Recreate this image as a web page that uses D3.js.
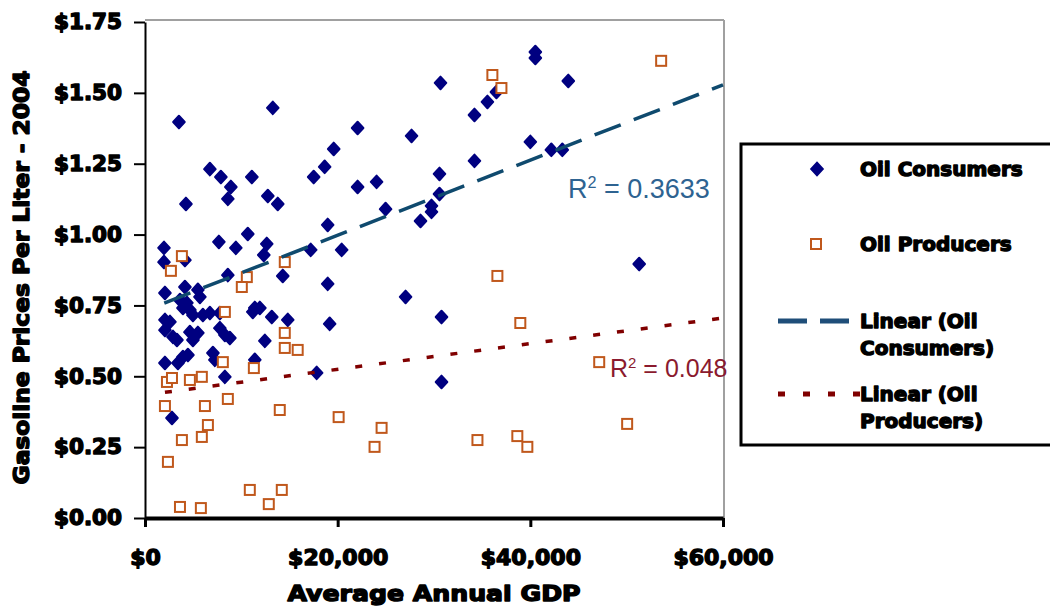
<!DOCTYPE html>
<html><head><meta charset="utf-8">
<script src="https://cdn.jsdelivr.net/npm/d3@7"></script>
<style>body{margin:0;background:#fff}</style>
</head><body><svg id="c" width="1050" height="611"></svg>
<script>
// ---------- data ----------
const consumersGDP = [3523,13265,40520,40520,43940,30675,36480,35545,34200,40000,42180,43320,34200,30570,30570,29740,29740,28600,51300,
  22070,27670,19590,18650,17510,22070,24040,24975,18965,17200,20415,18965,27050,19170,30780,17820,30780,
  6736,7876,8912,11090,8600,4250,12750,13780,10670,7670,9430,12640,12330,1970,1970,4145,14300,8600,
  2070,4145,5490,5700,3630,4350,4660,3940,4975,6010,6736,7770,2070,2590,2070,2900,3316,4660,5490,4975,
  7770,8290,8810,11400,11920,11190,13160,14820,12440,2070,3420,3940,4456,7250,7050,11400,8290,2800];
const consumersPrice = [1.397,1.447,1.644,1.623,1.542,1.535,1.503,1.468,1.422,1.327,1.299,1.299,1.260,1.214,1.143,1.101,1.080,1.048,0.896,
  1.376,1.348,1.302,1.239,1.203,1.168,1.186,1.090,1.034,0.946,0.946,0.826,0.780,0.685,0.709,0.512,0.480,
  1.231,1.203,1.168,1.203,1.126,1.108,1.136,1.108,1.002,0.974,0.953,0.967,0.928,0.953,0.903,0.910,0.854,0.857,
  0.794,0.815,0.805,0.780,0.769,0.759,0.734,0.741,0.716,0.716,0.723,0.723,0.699,0.692,0.663,0.639,0.628,0.656,0.653,0.628,
  0.670,0.646,0.635,0.741,0.741,0.727,0.709,0.699,0.625,0.547,0.547,0.568,0.575,0.558,0.582,0.558,0.498,0.353];
const producersGDP = [36060,37000,53580,36580,38960,47150,50050,34510,38650,39690,20100,24560,23830,
  3830,2690,10570,10050,14510,8290,14510,14510,15850,8080,11300,2280,2800,4660,5900,
  2070,6220,8600,13990,6530,5900,3830,2380,10880,14200,12850,3630,5800];
const producersPrice = [1.563,1.517,1.613,0.854,0.688,0.550,0.332,0.275,0.289,0.251,0.356,0.318,0.251,
  0.924,0.872,0.850,0.815,0.903,0.727,0.653,0.600,0.593,0.550,0.529,0.480,0.494,0.487,0.498,
  0.395,0.395,0.420,0.381,0.328,0.286,0.275,0.198,0.099,0.099,0.049,0.039,0.035];
// linear trend lines: [intercept, slope], drawn over [fromGDP, toGDP]
const trendConsumers = [0.732, 1.327e-5];
const trendConsumersRange = [2000, 60000];
const trendProducers = [0.434, 4.53e-6];
const trendProducersRange = [2070, 60000];
const rSquaredLabels = ["0.3633", "0.048"];
const xTickValues = [0, 20000, 40000, 60000];
const yTickValues = [0, 0.25, 0.5, 0.75, 1.0, 1.25, 1.5, 1.75];
const legendLabels = [["Oil Consumers"], ["Oil Producers"], ["Linear (Oil", "Consumers)"], ["Linear (Oil", "Producers)"]];
const xTitle = "Average Annual GDP";
const yTitle = "Gasoline Prices Per Liter - 2004";

// ---------- drawing ----------
const svg = d3.select("#c");
const L = 145, R = 723, T = 22, B = 518;
const x = d3.scaleLinear().domain([0, 60000]).range([L, R]);
const y = d3.scaleLinear().domain([0, 1.75]).range([B, T]);
const BLUE = "#000080", ORANGE = "#c0581c", TEAL = "#0f4a6e", DRED = "#800000";
const boldFont = "'DejaVu Sans', sans-serif";
const heavy = sel => sel.attr("font-family", boldFont).attr("font-weight", "bold").attr("fill", "#000")
  .attr("stroke", "#000").attr("stroke-width", 1.4).attr("stroke-linejoin", "round");

// plot frame (top/right grey)
svg.append("line").attr("x1", L).attr("x2", R + 1).attr("y1", 20).attr("y2", 20).attr("stroke", "#a0a0a0").attr("stroke-width", 2);
svg.append("line").attr("x1", R + 1).attr("x2", R + 1).attr("y1", 20).attr("y2", B).attr("stroke", "#a0a0a0").attr("stroke-width", 2);

// axes
const xAxis = svg.append("g").attr("transform", `translate(0,${B})`)
  .call(d3.axisBottom(x).tickValues(xTickValues).tickSize(9).tickSizeOuter(0).tickPadding(22)
    .tickFormat(d => "$" + d3.format(",")(d)));
xAxis.select(".domain").attr("stroke", "#000").attr("stroke-width", 4);
xAxis.selectAll(".tick line").attr("stroke", "#000").attr("stroke-width", 3);
xAxis.selectAll("text").call(heavy).attr("font-size", 22);

const yAxis = svg.append("g").attr("transform", `translate(${L},0)`)
  .call(d3.axisLeft(y).tickValues(yTickValues).tickSize(11).tickSizeOuter(0).tickPadding(12)
    .tickFormat(d => "$" + d3.format(".2f")(d)));
yAxis.select(".domain").attr("stroke", "#000").attr("stroke-width", 2);
yAxis.selectAll(".tick line").attr("stroke", "#000").attr("stroke-width", 2);
yAxis.selectAll("text").call(heavy).attr("font-size", 21).attr("textLength", 68).attr("lengthAdjust", "spacingAndGlyphs");

// axis titles
svg.append("text").attr("x", (L + R) / 2).attr("y", 601).attr("text-anchor", "middle")
  .call(heavy).attr("font-size", 22).attr("textLength", 293).attr("lengthAdjust", "spacingAndGlyphs").text(xTitle);
svg.append("text").attr("transform", `translate(29,${(70 + 485) / 2}) rotate(-90)`).attr("text-anchor", "middle")
  .call(heavy).attr("font-size", 21).attr("textLength", 414).attr("lengthAdjust", "spacingAndGlyphs").text(yTitle);

// trend lines
const line = d3.line().x(d => x(d[0])).y(d => y(d[1]));
const tc = trendConsumersRange.map(g => [g, trendConsumers[0] + trendConsumers[1] * g]);
const tp = trendProducersRange.map(g => [g, trendProducers[0] + trendProducers[1] * g]);

// markers
const diamond = "M0,-6.3L5.8,0L0,6.3L-5.8,0Z";
const consumers = consumersGDP.map((g, i) => [g, consumersPrice[i]]);
const producers = producersGDP.map((g, i) => [g, producersPrice[i]]);

svg.append("g").selectAll("path").data(consumers).join("path")
  .attr("d", diamond).attr("transform", d => `translate(${x(d[0])},${y(d[1])})`)
  .attr("fill", BLUE).attr("stroke", BLUE).attr("stroke-width", 2).attr("stroke-linejoin", "round");
svg.append("g").selectAll("rect").data(producers).join("rect")
  .attr("x", d => x(d[0]) - 5).attr("y", d => y(d[1]) - 5).attr("width", 10).attr("height", 10)
  .attr("fill", "#fff").attr("stroke", ORANGE).attr("stroke-width", 2);

svg.append("path").attr("d", line(tc)).attr("fill", "none").attr("stroke", TEAL).attr("stroke-width", 3.5)
  .attr("stroke-dasharray", "28,14");
svg.append("path").attr("d", line(tp)).attr("fill", "none").attr("stroke", DRED).attr("stroke-width", 3.5)
  .attr("stroke-dasharray", "7,17");

// R² labels
function r2(xp, yp, val, color, size) {
  const t = svg.append("text").attr("x", xp).attr("y", yp).attr("font-family", "'Liberation Sans', Arial, sans-serif")
    .attr("font-size", size).attr("fill", color);
  t.append("tspan").text("R");
  t.append("tspan").attr("dy", -size * 0.38).attr("font-size", size * 0.6).text("2");
  t.append("tspan").attr("dy", size * 0.38).text(" = " + val);
}
r2(568, 198, rSquaredLabels[0], "#2e6391", 27);
r2(610, 377, rSquaredLabels[1], "#8b1a2e", 25);

// legend
const lg = svg.append("g");
lg.append("rect").attr("x", 741).attr("y", 144).attr("width", 320).attr("height", 301)
  .attr("fill", "#fff").attr("stroke", "#000").attr("stroke-width", 3);
const rowY = [169, 244, 321, 394];
lg.append("path").attr("d", diamond).attr("transform", `translate(817,${rowY[0]})`).attr("fill", BLUE).attr("stroke", BLUE).attr("stroke-width", 2);
lg.append("rect").attr("x", 811).attr("y", rowY[1] - 5).attr("width", 10).attr("height", 10).attr("fill", "#fff").attr("stroke", ORANGE).attr("stroke-width", 2);
lg.append("line").attr("x1", 778).attr("x2", 855).attr("y1", rowY[2]).attr("y2", rowY[2]).attr("stroke", "#1f4e79").attr("stroke-width", 5).attr("stroke-dasharray", "29,13");
lg.append("line").attr("x1", 778).attr("x2", 860).attr("y1", rowY[3]).attr("y2", rowY[3]).attr("stroke", DRED).attr("stroke-width", 5).attr("stroke-dasharray", "7,18");
const legendWidths = [[170], [150], [122, 140], [122, 128]];
legendLabels.forEach((lines, i) => {
  lines.forEach((s, j) => {
    lg.append("text").attr("x", 860).attr("y", rowY[i] + j * 27).attr("dy", "0.36em")
      .call(heavy).attr("font-size", 20).text(s);
  });
});
</script></body></html>
